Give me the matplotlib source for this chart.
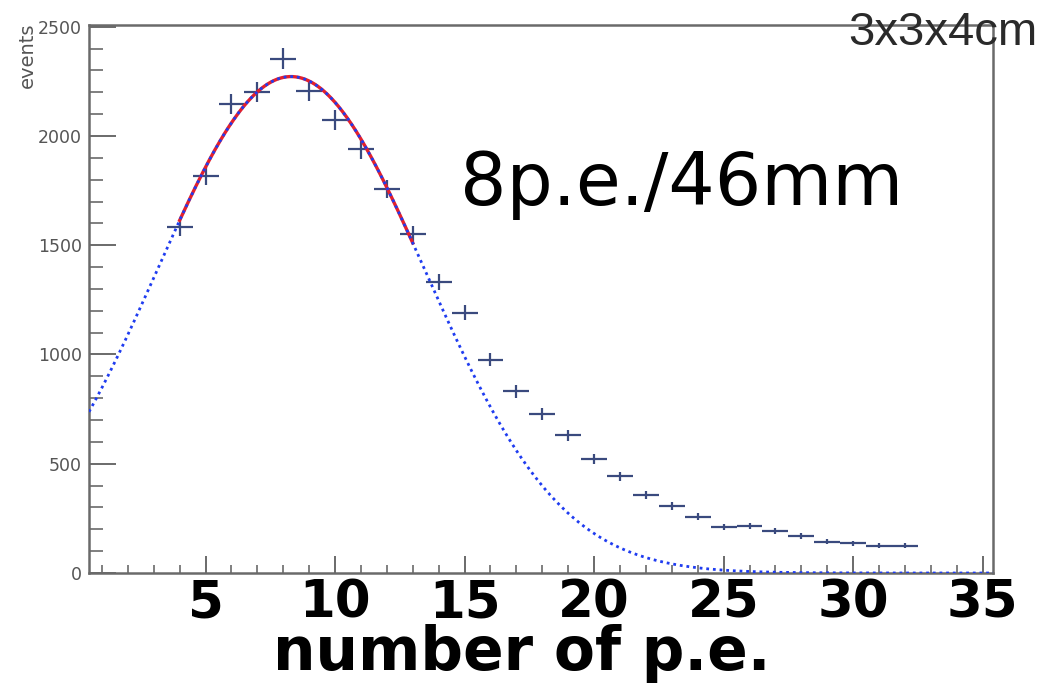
import numpy as np
import matplotlib
matplotlib.use("Agg")
import matplotlib.pyplot as plt
from matplotlib.ticker import MultipleLocator

# Photoelectron spectrum: bin centres and counts per bin
pe_bins = [4, 5, 6, 7, 8, 9, 10, 11, 12, 13, 14, 15, 16, 17, 18, 19, 20,
           21, 22, 23, 24, 25, 26, 27, 28, 29, 30, 31, 32]
events = [1582, 1817, 2147, 2202, 2353, 2206, 2073, 1940, 1757, 1550, 1332,
          1191, 977, 832, 728, 630, 521, 442, 358, 307, 258, 210, 216, 193,
          170, 144, 136, 124, 124]

# Gaussian fit result (amplitude, mean, sigma) and fit range
fit_amp = 2272.0
fit_mean = 8.3
fit_sigma = 5.2
fit_range = (4.0, 13.0)

x_range = (0.5, 35.4)
y_range = (0, 2508)
x_ticks = [5, 10, 15, 20, 25, 30, 35]
y_ticks = [0, 500, 1000, 1500, 2000, 2500]


def gauss(x):
    return fit_amp * np.exp(-0.5 * ((x - fit_mean) / fit_sigma) ** 2)


W, H = 1047, 690
fig = plt.figure(figsize=(W / 100, H / 100), dpi=100)
ax = fig.add_axes([89 / W, 1 - 573 / H, (993 - 89) / W, (573 - 25) / H])

# data points with bin-width and sqrt(N) error bars
ax.errorbar(pe_bins, events, xerr=0.5, yerr=np.sqrt(events), fmt='none',
            ecolor='#3a4a7e', elinewidth=1.6, capsize=0, zorder=3)

# fit function: solid red over the fit range, dotted blue over full range
xf = np.linspace(fit_range[0], fit_range[1], 300)
ax.plot(xf, gauss(xf), color='#e3202c', lw=2.4, zorder=4)
xa = np.linspace(x_range[0], x_range[1], 800)
ax.plot(xa, gauss(xa), color='#1f3cf0', lw=2.0, ls=(0, (1, 1.4)), zorder=5)

ax.set_xlim(*x_range)
ax.set_ylim(*y_range)

gray = '#6a6a6a'
for s in ax.spines.values():
    s.set_color(gray)
    s.set_linewidth(1.8)

ax.xaxis.set_major_locator(plt.FixedLocator(x_ticks))
ax.xaxis.set_minor_locator(MultipleLocator(1))
ax.yaxis.set_major_locator(plt.FixedLocator(y_ticks))
ax.yaxis.set_minor_locator(MultipleLocator(100))

ax.tick_params(axis='x', which='major', direction='in', length=12, width=1.4,
               color=gray, pad=4, labelsize=37, labelcolor='black')
ax.tick_params(axis='x', which='minor', direction='in', length=6, width=1.2,
               color=gray)
ax.tick_params(axis='y', which='major', direction='in', length=19.5, width=1.4,
               color=gray, pad=5, labelsize=12.5, labelcolor='#555555')
ax.tick_params(axis='y', which='minor', direction='in', length=10, width=1.2,
               color=gray)
ax.tick_params(top=False, right=False, which='both')

for lab in ax.get_xticklabels():
    lab.set_fontweight('bold')
    lab.set_fontfamily('DejaVu Sans')

# axis titles
fig.text(27 / W, 1 - 23 / H, 'events', rotation=90, ha='center', va='top',
         fontsize=14, color='#555555')
fig.text(522 / W, 1 - 670 / H, 'number of p.e.', ha='center', va='baseline',
         fontsize=43, fontweight='bold', color='black')

# annotations
fig.text(682 / W, 1 - 205 / H, '8p.e./46mm', ha='center', va='baseline',
         fontsize=52.5, color='black')
fig.text(848 / W, 1 - 45 / H, '3x3x4cm', ha='left', va='baseline',
         fontsize=34, color='#2a2a2a', family='Liberation Sans')

fig.savefig('out.png', dpi=100)
